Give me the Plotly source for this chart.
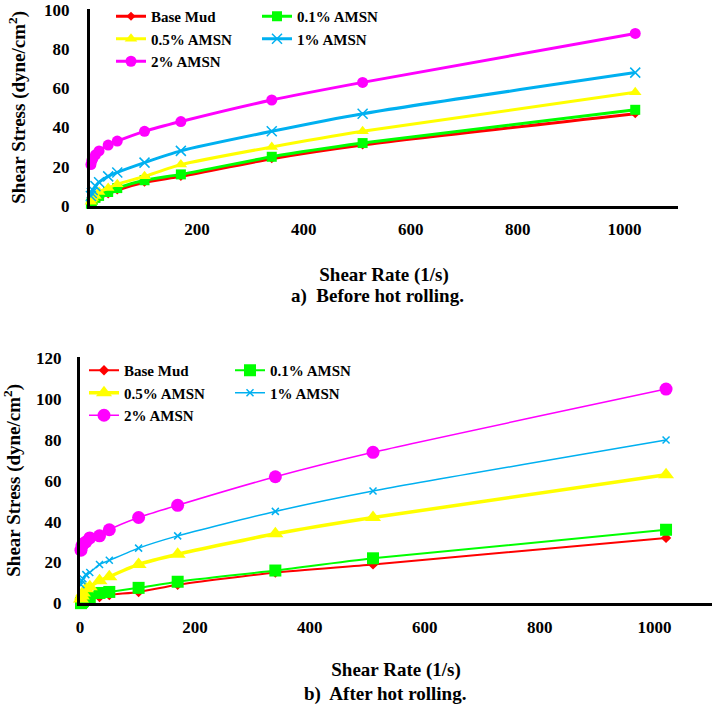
import plotly.graph_objects as go

# Shear rates (1/s)
shear_rate = [1.7, 3.4, 5.1, 10.2, 17, 34, 51, 102, 170, 340, 510, 1020]

series_names = ["Base Mud", "0.1% AMSN", "0.5% AMSN", "1% AMSN", "2% AMSN"]

# a) Before hot rolling
before_base = [1, 1.5, 2, 3, 4, 6, 8, 12, 15, 24, 31, 47]
before_01 = [1, 2, 3, 4, 5, 7, 9, 13, 16, 25, 32, 49]
before_05 = [2, 3, 4, 5, 7, 9, 11, 15, 21, 30, 38, 58]
before_1 = [5, 6.5, 8, 10, 12, 15, 17, 22, 28, 38, 47, 68]
before_2 = [21, 23, 24, 26, 28, 31, 33, 38, 43, 54, 63, 88]

# b) After hot rolling
after_base = [0, 0.5, 1, 1.5, 2, 3, 4, 5.5, 9, 15, 19, 32]
after_01 = [0, 0.5, 1, 2, 3, 5, 5.5, 7.5, 10.5, 16, 22, 36]
after_05 = [2, 3.5, 5, 7, 8, 11, 13, 19, 24, 34, 42, 63]
after_1 = [9, 11, 12, 14, 15, 19, 21, 27, 33, 45, 55, 80]
after_2 = [26, 28, 29, 30, 32, 33, 36, 42, 48, 62, 74, 105]

x_ticks = [0, 200, 400, 600, 800, 1000]
y_ticks_top = [0, 20, 40, 60, 80, 100]
y_ticks_bottom = [0, 20, 40, 60, 80, 100, 120]

colors = ["#FF0000", "#00FF00", "#FFFF00", "#00B0F0", "#FF00FF"]
symbols = ["diamond", "square", "triangle-up", "x-thin", "circle"]

FONT = "Liberation Serif"
W, H = 712, 706

fig = go.Figure()

top_marker_sizes = [7, 10, 11, 10, 11]
top_line_widths = [3, 3, 3, 3, 3]
bot_marker_sizes = [8, 12, 14, 7, 13]
bot_line_widths = [2, 2, 3.5, 1.5, 1.5]

# legend columns: column 1 = Base Mud, 0.5%, 2%; column 2 = 0.1%, 1%
top_leg = ["legend", "legend2", "legend", "legend2", "legend"]
bot_leg = ["legend3", "legend4", "legend3", "legend4", "legend3"]

before = [before_base, before_01, before_05, before_1, before_2]
after = [after_base, after_01, after_05, after_1, after_2]

for i, name in enumerate(series_names):
    fig.add_trace(go.Scatter(
        x=shear_rate, y=before[i], name=name, mode="lines+markers",
        line=dict(color=colors[i], width=top_line_widths[i], shape="spline", smoothing=0.6),
        marker=dict(symbol=symbols[i], size=top_marker_sizes[i], color=colors[i],
                    line=dict(color=colors[i], width=1.5 if symbols[i] == "x-thin" else 0)),
        xaxis="x", yaxis="y", legend=top_leg[i], cliponaxis=False,
    ))

for i, name in enumerate(series_names):
    fig.add_trace(go.Scatter(
        x=shear_rate, y=after[i], name=name, mode="lines+markers",
        line=dict(color=colors[i], width=bot_line_widths[i], shape="spline", smoothing=0.6),
        marker=dict(symbol=symbols[i], size=bot_marker_sizes[i], color=colors[i],
                    line=dict(color=colors[i], width=1.5 if symbols[i] == "x-thin" else 0)),
        xaxis="x2", yaxis="y2", legend=bot_leg[i], cliponaxis=False,
    ))

tickfont = dict(family=FONT, size=17, color="black", weight="bold")
titlefont = dict(family=FONT, size=19, color="black", weight="bold")

axis_common = dict(showline=True, linewidth=3, linecolor="black", showgrid=False,
                   zeroline=False, ticks="outside", tickcolor="rgba(0,0,0,0)",
                   tickfont=tickfont, automargin=False, ticklabeloverflow="allow")

ytitle = "Shear Stress (dyne/cm<sup>2</sup>)"

fig.update_layout(
    width=W, height=H,
    margin=dict(l=0, r=0, t=0, b=0),
    paper_bgcolor="white", plot_bgcolor="white",
    font=dict(family=FONT),
    showlegend=True,
    xaxis=dict(domain=[90 / W, 678 / W], range=[0, 1100], tickvals=x_ticks,
               anchor="y", ticklen=6,
               title=dict(text="Shear Rate (1/s)", font=titlefont, standoff=30),
               **axis_common),
    yaxis=dict(domain=[1 - 205 / H, 1 - 8 / H], range=[0, 100.5], tickvals=y_ticks_top,
               anchor="x", ticklen=14,
               title=dict(text=ytitle, font=titlefont, standoff=14),
               **axis_common),
    xaxis2=dict(domain=[80 / W, 1.0], range=[0, 1100], tickvals=x_ticks,
                anchor="y2", ticklen=6,
                title=dict(text="Shear Rate (1/s)", font=titlefont, standoff=28),
                **axis_common),
    yaxis2=dict(domain=[1 - 603 / H, 1 - 357 / H], range=[0, 120.5], tickvals=y_ticks_bottom,
                anchor="x2", ticklen=12,
                title=dict(text=ytitle, font=titlefont, standoff=12),
                **axis_common),
)

legfont = dict(family=FONT, size=15, color="black", weight="bold")
leg_common = dict(font=legfont, bgcolor="rgba(0,0,0,0)", borderwidth=0,
                  xanchor="left", yanchor="top", traceorder="normal",
                  orientation="v", itemwidth=30)

fig.update_layout(
    legend=dict(x=111 / W, y=1 + 1 / H, **leg_common),
    legend2=dict(x=257 / W, y=1 + 1 / H, **leg_common),
    legend3=dict(x=84 / W, y=1 - 354 / H, **leg_common),
    legend4=dict(x=230 / W, y=1 - 354 / H, **leg_common),
)

fig.add_annotation(text="a)  Before hot rolling.", x=377 / W, y=1 - 295 / H,
                   xref="paper", yref="paper", showarrow=False,
                   font=titlefont, xanchor="center", yanchor="middle")
fig.add_annotation(text="b)  After hot rolling.", x=385 / W, y=1 - 694 / H,
                   xref="paper", yref="paper", showarrow=False,
                   font=titlefont, xanchor="center", yanchor="middle")

fig.write_html("out.html")
